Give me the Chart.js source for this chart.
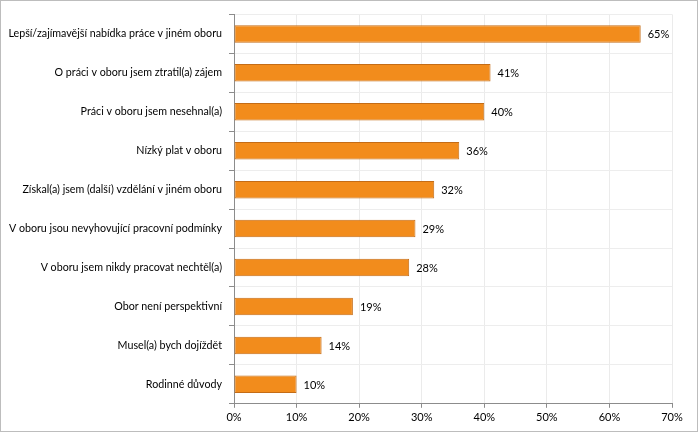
<!DOCTYPE html>
<html>
<head>
<meta charset="utf-8">
<script src="https://cdn.jsdelivr.net/npm/chart.js@4/dist/chart.umd.min.js"></script>
<style>
  html, body { margin: 0; padding: 0; background: #fff; }
  #wrap { width: 696px; height: 430px; border: 1px solid #bdbdbd; position: relative; }
</style>
</head>
<body>
<div id="wrap"><canvas id="c"></canvas></div>
<script>
// Důvody odchodu z oboru (podíl respondentů v %)
const reasons = [
  "Lepší/zajímavější nabídka práce v jiném oboru",
  "O práci v oboru jsem ztratil(a) zájem",
  "Práci v oboru jsem nesehnal(a)",
  "Nízký plat v oboru",
  "Získal(a) jsem (další) vzdělání v jiném oboru",
  "V oboru jsou nevyhovující pracovní podmínky",
  "V oboru jsem nikdy pracovat nechtěl(a)",
  "Obor není perspektivní",
  "Musel(a) bych dojíždět",
  "Rodinné důvody"
]
const shares = [65, 41, 40, 36, 32, 29, 28, 19, 14, 10]
const xTicks = [0, 10, 20, 30, 40, 50, 60, 70]

const font = { family: "Lato, sans-serif", size: 11 }
const catFont = { family: "Lato, sans-serif", size: 10.7 }

// popisky hodnot vpravo od sloupců
const valueLabels = {
  id: "valueLabels",
  afterDatasetsDraw(chart) {
    const { ctx } = chart
    const meta = chart.getDatasetMeta(0)
    ctx.save()
    ctx.font = `${font.size}px ${font.family}`
    ctx.fillStyle = "#000"
    ctx.textBaseline = "middle"
    meta.data.forEach((bar, i) => {
      ctx.fillText(shares[i] + "%", bar.x + 7, bar.y + 1)
    })
    ctx.restore()
  }
}

new Chart(document.getElementById("c"), {
  type: "bar",
  data: {
    labels: reasons,
    datasets: [{
      data: shares,
      backgroundColor: "#f28c1c",
      borderColor: "#c46c16",
      borderWidth: 1,
      borderSkipped: false,
      barPercentage: 0.45,
      categoryPercentage: 1
    }]
  },
  options: {
    indexAxis: "y",
    responsive: true,
    maintainAspectRatio: false,
    animation: false,
    layout: { padding: { top: 13, right: 25, left: 0, bottom: 4 } },
    plugins: { legend: { display: false }, tooltip: { enabled: false } },
    scales: {
      x: {
        min: 0,
        max: 70,
        afterBuildTicks: (s) => { s.ticks = xTicks.map((v) => ({ value: v })) },
        ticks: { color: "#000", font, padding: 3, callback: (v) => v + "%" },
        grid: { color: "#ebebeb", tickColor: "#8c8c8c", tickLength: 4 },
        border: { color: "#8c8c8c" }
      },
      y: {
        afterFit: (s) => { s.width = 233 },
        ticks: { color: "#000", font: catFont, padding: 7 },
        grid: { color: "#ededed", tickColor: "#8c8c8c", tickLength: 5 },
        border: { color: "#8c8c8c" }
      }
    }
  },
  plugins: [valueLabels]
})
</script>
</body>
</html>
